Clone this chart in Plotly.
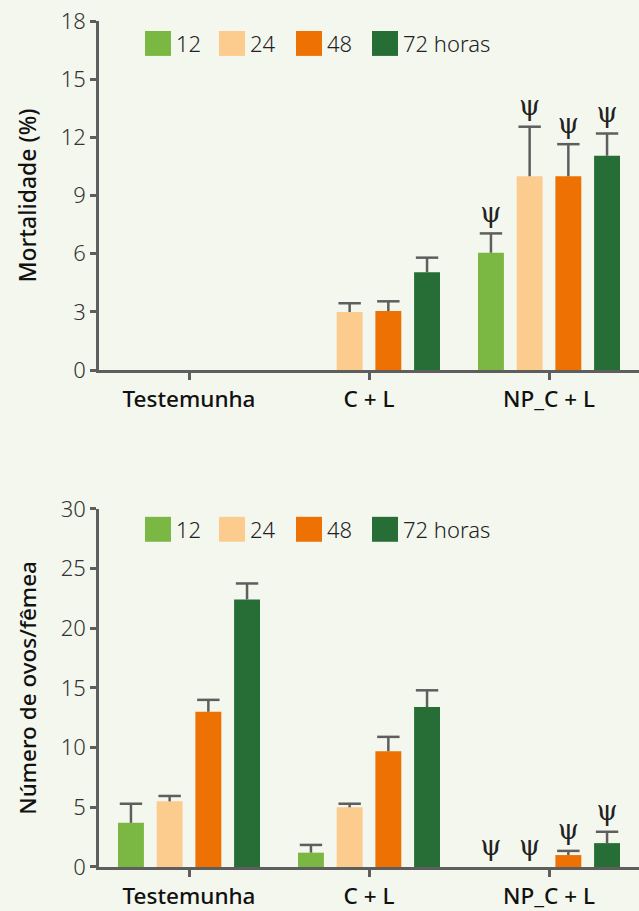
import plotly.graph_objects as go
from plotly.subplots import make_subplots

categories = ["Testemunha", "C + L", "NP_C + L"]
series_names = ["12", "24", "48", "72 horas"]
colors = ["#7ab743", "#fccb8e", "#ee7203", "#266d36"]

# Mortalidade (%)
mort_12 = [0, 0, 6.05]
mort_24 = [0, 3.0, 10.0]
mort_48 = [0, 3.05, 10.0]
mort_72 = [0, 5.05, 11.05]
mort_err_12 = [None, None, 1.0]
mort_err_24 = [None, 0.45, 2.55]
mort_err_48 = [None, 0.5, 1.65]
mort_err_72 = [None, 0.75, 1.15]
mort_psi = [[False, False, True], [False, False, True], [False, False, True], [False, False, True]]

# Número de ovos/fêmea
ovos_12 = [3.7, 1.2, 0]
ovos_24 = [5.5, 5.0, 0]
ovos_48 = [13.0, 9.7, 1.0]
ovos_72 = [22.4, 13.4, 2.0]
ovos_err_12 = [1.6, 0.65, None]
ovos_err_24 = [0.45, 0.3, None]
ovos_err_48 = [1.0, 1.2, 0.35]
ovos_err_72 = [1.35, 1.4, 0.95]
ovos_psi = [[False, False, True], [False, False, True], [False, False, True], [False, False, True]]

mort_ticks = [0, 3, 6, 9, 12, 15, 18]
ovos_ticks = [0, 5, 10, 15, 20, 25, 30]

W, H = 639, 911
ML, MR, MT, MB = 99, 0, 21, 42
PH = H - MT - MB
PW = W - ML - MR

def py(pix):
    return (H - MB - pix) / PH

def px(pix):
    return (pix - ML) / PW

top_dom = [py(371), 1.0]
bot_dom = [0.0, py(510)]

BG = "#f4f7ee"
AX = "#5e5e5e"
FONT = "Noto Sans"
BARGAP = 0.14
BARGROUPGAP = 0.33

fig = make_subplots(rows=2, cols=1)

panels = [
    (1, [mort_12, mort_24, mort_48, mort_72],
     [mort_err_12, mort_err_24, mort_err_48, mort_err_72], mort_psi),
    (2, [ovos_12, ovos_24, ovos_48, ovos_72],
     [ovos_err_12, ovos_err_24, ovos_err_48, ovos_err_72], ovos_psi),
]

for row, vals, errs, psis in panels:
    for k, name in enumerate(series_names):
        v, e, p = vals[k], errs[k], psis[k]
        # stems: error bar without caps ("NaN" -> skipped by plotly.js)
        err_plus = [x if x is not None else "NaN" for x in e]
        err_minus = [0 if x is not None else "NaN" for x in e]
        fig.add_trace(go.Bar(
            x=categories, y=v, name=name, offsetgroup=str(k),
            marker=dict(color=colors[k], line=dict(width=0)),
            error_y=dict(type="data", symmetric=False, array=err_plus,
                         arrayminus=err_minus, color=AX, thickness=2.5, width=0),
            showlegend=False, hoverinfo="skip",
        ), row=row, col=1)
        # caps, grouped to the same positions as the bars
        cap_y = [v[i] + e[i] if e[i] is not None else None for i in range(len(categories))]
        fig.add_trace(go.Scatter(
            x=categories, y=cap_y, offsetgroup=str(k), mode="markers",
            marker=dict(symbol="line-ew", size=16, color=AX,
                        line=dict(color=AX, width=2.5)),
            showlegend=False, hoverinfo="skip", cliponaxis=False,
        ), row=row, col=1)
        # psi significance marks above the caps (transparent marker gives the gap)
        psi_y = [(v[i] + (e[i] or 0)) if p[i] else None for i in range(len(categories))]
        fig.add_trace(go.Scatter(
            x=categories, y=psi_y, offsetgroup=str(k), mode="markers+text",
            marker=dict(size=6, color="rgba(0,0,0,0)"),
            text=["ψ" if q else "" for q in p], textposition="top center",
            textfont=dict(family="DejaVu Serif", size=27, color="#222"),
            showlegend=False, hoverinfo="skip", cliponaxis=False,
        ), row=row, col=1)

axis_common = dict(showline=True, linecolor=AX, linewidth=2.5,
                   ticks="outside", tickcolor=AX, tickwidth=2.5,
                   showgrid=False, zeroline=False)

for row in (1, 2):
    fig.update_xaxes(axis_common, ticklen=7, range=[-0.5, 2.5],
                     tickfont=dict(family=FONT, size=22.5, color="#111", weight=500),
                     domain=[0, 1], row=row, col=1)

fig.update_yaxes(axis_common, ticklen=6, range=[0, 18], tickvals=mort_ticks,
                 tickfont=dict(family=FONT, size=22, color="#333", weight=300),
                 title=dict(text="Mortalidade (%)", standoff=18,
                            font=dict(family=FONT, size=23, color="#111", weight=500)),
                 domain=top_dom, row=1, col=1)
fig.update_yaxes(axis_common, ticklen=6, range=[0, 30], tickvals=ovos_ticks,
                 tickfont=dict(family=FONT, size=22, color="#333", weight=300),
                 title=dict(text="Número de ovos/fêmea", standoff=18,
                            font=dict(family=FONT, size=22.5, color="#111", weight=500)),
                 domain=bot_dom, row=2, col=1)

# Legends drawn as shapes + labels in paper coordinates
legend_sq_x = [145, 219, 296, 372]
legend_rows = [(31, 56), (518, 543)]
shapes = []
for (y0, y1) in legend_rows:
    for k, name in enumerate(series_names):
        x0 = legend_sq_x[k]
        shapes.append(dict(type="rect", xref="paper", yref="paper",
                           x0=px(x0), x1=px(x0 + 26), y0=py(y1), y1=py(y0),
                           fillcolor=colors[k], line=dict(width=0)))
        fig.add_annotation(xref="paper", yref="paper", x=px(x0 + 29),
                           y=py((y0 + y1) / 2), text=name, showarrow=False,
                           xanchor="left", yanchor="middle",
                           font=dict(family=FONT, size=22, color="#222", weight=300))

fig.update_layout(
    width=W, height=H,
    margin=dict(l=ML, r=MR, t=MT, b=MB),
    paper_bgcolor=BG, plot_bgcolor=BG,
    barmode="group", bargap=BARGAP, bargroupgap=BARGROUPGAP,
    scattermode="group", scattergap=BARGAP,
    shapes=shapes, showlegend=False,
)

fig.write_html("out.html", config={"displayModeBar": False},
               post_script="document.body.style.margin='0';document.body.style.background='" + BG + "';")
